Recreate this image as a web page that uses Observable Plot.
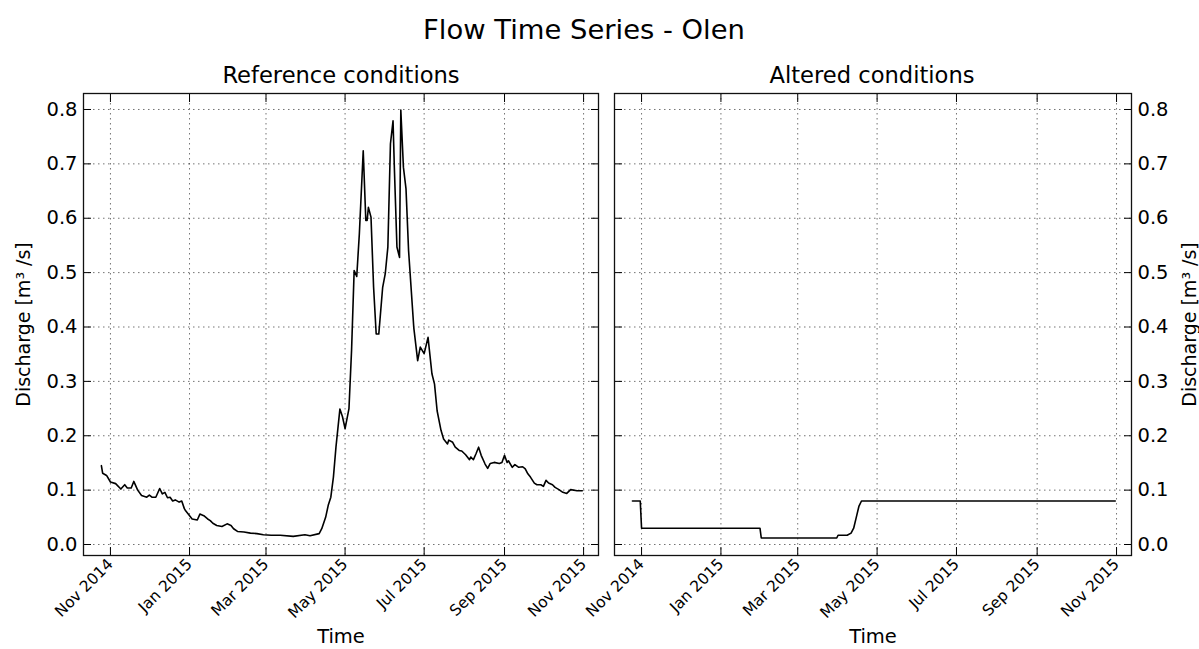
<!DOCTYPE html>
<html><head><meta charset="utf-8">
<script src="https://cdn.jsdelivr.net/npm/d3@7"></script>
<script src="https://cdn.jsdelivr.net/npm/@observablehq/plot@0.6"></script>
<style>
body{margin:0;background:#fff;font-family:"DejaVu Sans",sans-serif;}
#wrap{position:relative;width:1199px;height:649px;overflow:hidden;}
.t{position:absolute;color:#000;white-space:nowrap;transform:translate(-50%,-50%);line-height:1;}
#left,#right{position:absolute;top:0;}
#left{left:0;} #right{left:606px;}
#left svg,#right svg{overflow:visible;}
</style></head><body>
<div id="wrap">
<div class="t" style="left:584px;top:30px;font-size:27.4px">Flow Time Series - Olen</div>
<div class="t" style="left:341px;top:75px;font-size:22.6px">Reference conditions</div>
<div class="t" style="left:872px;top:75px;font-size:22.6px">Altered conditions</div>
<div id="left"></div>
<div id="right"></div>
</div>
<script>
const refDates = ["2014-10-25","2014-10-26","2014-10-29","2014-11-01","2014-11-05","2014-11-09","2014-11-12","2014-11-14","2014-11-17","2014-11-19","2014-11-22","2014-11-25","2014-11-29","2014-12-01","2014-12-03","2014-12-06","2014-12-09","2014-12-11","2014-12-13","2014-12-15","2014-12-17","2014-12-19","2014-12-21","2014-12-24","2014-12-26","2014-12-28","2014-12-29","2014-12-31","2015-01-03","2015-01-07","2015-01-09","2015-01-12","2015-01-15","2015-01-17","2015-01-19","2015-01-22","2015-01-26","2015-01-30","2015-02-02","2015-02-04","2015-02-07","2015-02-12","2015-02-17","2015-02-22","2015-02-27","2015-03-05","2015-03-12","2015-03-22","2015-03-31","2015-04-04","2015-04-11","2015-04-13","2015-04-16","2015-04-18","2015-04-20","2015-04-22","2015-04-24","2015-04-27","2015-04-29","2015-05-01","2015-05-04","2015-05-06","2015-05-08","2015-05-10","2015-05-12","2015-05-15","2015-05-17","2015-05-18","2015-05-19","2015-05-21","2015-05-23","2015-05-25","2015-05-27","2015-05-30","2015-06-01","2015-06-03","2015-06-05","2015-06-07","2015-06-08","2015-06-10","2015-06-12","2015-06-13","2015-06-15","2015-06-17","2015-06-19","2015-06-23","2015-06-26","2015-06-28","2015-07-01","2015-07-04","2015-07-07","2015-07-09","2015-07-11","2015-07-14","2015-07-16","2015-07-19","2015-07-20","2015-07-23","2015-07-25","2015-07-28","2015-07-30","2015-08-02","2015-08-05","2015-08-06","2015-08-08","2015-08-10","2015-08-12","2015-08-14","2015-08-17","2015-08-19","2015-08-21","2015-08-24","2015-08-28","2015-08-30","2015-09-01","2015-09-03","2015-09-04","2015-09-07","2015-09-09","2015-09-12","2015-09-15","2015-09-17","2015-09-19","2015-09-21","2015-09-24","2015-09-26","2015-09-29","2015-10-01","2015-10-03","2015-10-05","2015-10-08","2015-10-10","2015-10-13","2015-10-16","2015-10-19","2015-10-22","2015-10-27","2015-10-31"];
const refValues = [0.145,0.131,0.127,0.115,0.112,0.102,0.110,0.104,0.104,0.116,0.100,0.090,0.087,0.091,0.087,0.087,0.103,0.093,0.096,0.086,0.087,0.080,0.082,0.078,0.080,0.066,0.062,0.056,0.047,0.045,0.056,0.053,0.047,0.044,0.039,0.035,0.033,0.038,0.035,0.029,0.024,0.023,0.021,0.020,0.018,0.017,0.017,0.015,0.018,0.016,0.020,0.029,0.050,0.072,0.087,0.124,0.180,0.249,0.235,0.213,0.250,0.357,0.504,0.493,0.571,0.724,0.596,0.596,0.620,0.602,0.473,0.387,0.387,0.473,0.498,0.547,0.737,0.779,0.694,0.547,0.528,0.799,0.694,0.654,0.540,0.399,0.338,0.363,0.351,0.381,0.314,0.295,0.246,0.210,0.194,0.185,0.192,0.188,0.179,0.173,0.172,0.165,0.156,0.161,0.156,0.167,0.179,0.164,0.148,0.140,0.149,0.151,0.149,0.151,0.164,0.151,0.154,0.142,0.147,0.142,0.143,0.139,0.130,0.124,0.113,0.110,0.110,0.107,0.118,0.113,0.110,0.105,0.101,0.096,0.094,0.101,0.099,0.099];

const altDates = ["2014-10-25","2014-10-31","2014-11-01","2015-01-31","2015-02-01","2015-03-31","2015-04-01","2015-04-08","2015-04-11","2015-04-13","2015-04-15","2015-04-17","2015-04-19","2015-10-31"];
const altValues = [0.08,0.08,0.03,0.03,0.012,0.012,0.017,0.017,0.021,0.03,0.05,0.07,0.08,0.08];

const xTicks = ["2014-11-01","2015-01-01","2015-03-01","2015-05-01","2015-07-01","2015-09-01","2015-11-01"];
const yTicks = [0.0,0.1,0.2,0.3,0.4,0.5,0.6,0.7,0.8];
const xDomain = ["2014-10-11T05:00:00Z","2015-11-12T12:00:00Z"];
const yDomain = [-0.0202, 0.8294];
const titleY = "Discharge [m³ /s]";
const titleX = "Time";

function panel(dates, values, side, width, mLeft, mRight) {
  const data = dates.map((d, i) => ({date: new Date(d), value: values[i]}));
  const xt = xTicks.map(d => new Date(d));
  const grid = {stroke: "#000", strokeOpacity: 0.55, strokeDasharray: "1.5,3.5", strokeWidth: 1};
  const tk = {tickSize: -8, fill: "none", stroke: "#000", label: null};
  return Plot.plot({
    width, height: 649,
    marginTop: 93, marginBottom: 94, marginLeft: mLeft, marginRight: mRight,
    style: {fontFamily: "DejaVu Sans", fontSize: "19.5px", color: "#000", background: "transparent", overflow: "visible"},
    x: {type: "utc", domain: xDomain.map(d => new Date(d))},
    y: {domain: yDomain},
    marks: [
      Plot.gridX(xt, grid),
      Plot.gridY(yTicks, grid),
      Plot.line(data, {x: "date", y: "value", stroke: "#000", strokeWidth: 1.6}),
      Plot.axisX(xt, {anchor: "bottom", ...tk}),
      Plot.axisX(xt, {anchor: "top", ...tk}),
      Plot.axisY(yTicks, {anchor: "left", ...tk}),
      Plot.axisY(yTicks, {anchor: "right", ...tk}),
      Plot.axisX(xt, {anchor: "bottom", tickSize: 0, tickPadding: 6, tickRotate: -45, fontSize: 15.5,
        tickFormat: d3.utcFormat("%b %Y"), label: null}),
      Plot.axisY(yTicks, {anchor: side, tickSize: 0, tickPadding: 6, tickFormat: d => d.toFixed(1), label: null}),
      Plot.text([titleX], {frameAnchor: "bottom", dy: 87, fontSize: 19.5}),
      Plot.text([titleY], {frameAnchor: side, textAnchor: "middle", dx: side === "left" ? -60 : 58, rotate: -90, fontSize: 19}),
      Plot.frame({stroke: "#111", strokeWidth: 1.3})
    ]
  });
}

document.getElementById("left").append(panel(refDates, refValues, "left", 606, 83, 8));
document.getElementById("right").append(panel(altDates, altValues, "right", 593, 8, 68));
</script>
</body></html>
